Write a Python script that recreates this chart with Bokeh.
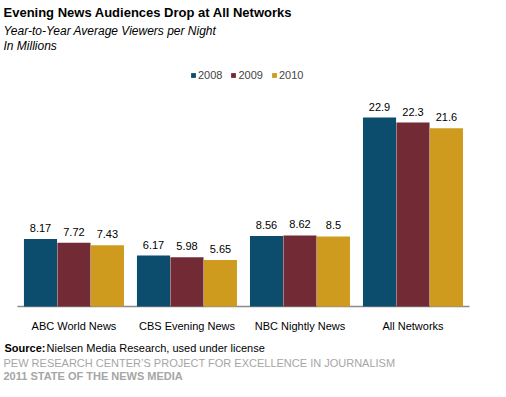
from bokeh.plotting import figure
from bokeh.models import Range1d, ColumnDataSource, Label, Legend, LegendItem
from bokeh.core.properties import value
from bokeh.embed import file_html
from bokeh.resources import INLINE

categories = ["ABC World News", "CBS Evening News", "NBC Nightly News", "All Networks"]
years = ["2008", "2009", "2010"]
v2008 = [8.17, 6.17, 8.56, 22.9]
v2009 = [7.72, 5.98, 8.62, 22.3]
v2010 = [7.43, 5.65, 8.5, 21.6]
colors = ["#0C4C6C", "#722B35", "#CF9B1E"]

FONT = "Liberation Sans"
W, H = 490, 381

# frame covers the whole canvas; category i is centred at i + 0.5
p = figure(width=W, height=H, x_range=Range1d(-0.150, 4.186), y_range=Range1d(-9.09, 37.09),
           output_backend="svg", toolbar_location=None, title=None,
           x_axis_location=None, y_axis_location=None,
           min_border_left=0, min_border_right=0, min_border_top=0, min_border_bottom=0)
p.outline_line_color = None
p.xgrid.visible = False
p.ygrid.visible = False
p.background_fill_color = "white"
p.border_fill_color = "white"

n = len(categories)
centers = [i + 0.5 for i in range(n)]

# category axis line and labels
p.segment(x0=[0], x1=[n], y0=[0], y1=[0], line_color="#8C8C8C", line_width=1.5)
p.text(x=centers, y=[0] * n, text=categories, y_offset=19, text_align="center",
       text_baseline="middle", text_font=value(FONT), text_font_size="11px",
       text_color="#000000")

offsets = [-0.296, 0.0, 0.296]
series = [v2008, v2009, v2010]
items = []
for yr, vals, off, col in zip(years, series, offsets, colors):
    xs = [c + off for c in centers]
    src = ColumnDataSource(dict(x=xs, val=vals, lab=[f"{v:g}" for v in vals]))
    r = p.vbar(x="x", top="val", bottom=0, width=0.293, source=src,
               fill_color=col, line_color=None)
    p.text(x="x", y="val", text="lab", source=src,
           text_align="center", text_baseline="bottom", y_offset=-7,
           text_font=value(FONT), text_font_size="11px", text_color="#000000")
    items.append(LegendItem(label=yr, renderers=[r]))

legend = Legend(items=items, orientation="horizontal", location=(190, 300),
                glyph_width=6, glyph_height=6, label_standoff=2, spacing=8,
                label_height=12, label_text_font=FONT, label_text_font_size="11px",
                padding=0, margin=0, border_line_color=None, background_fill_alpha=0)
p.add_layout(legend, "center")

def lab(txt, cy, x=0, size="11px", style="normal", color="#000000"):
    p.add_layout(Label(x=x, y=cy, x_units="canvas", y_units="canvas",
                       text=txt, text_font=FONT, text_font_size=size,
                       text_font_style=style, text_color=color,
                       text_baseline="middle", text_align="left"))

lab("Evening News Audiences Drop at All Networks", 11.5, x=3, size="13px", style="bold")
lab("Year-to-Year Average Viewers per Night", 30.5, x=3, size="12px", style="italic")
lab("In Millions", 45, x=3, size="12px", style="italic")
lab("Source:", 347.5, x=4, size="11px", style="bold")
lab("Nielsen Media Research, used under license", 347.5, x=46, size="11px")
lab("PEW RESEARCH CENTER\u2019S PROJECT FOR EXCELLENCE IN JOURNALISM", 362, x=3,
    size="11px", color="#A6A6A6")
lab("2011 STATE OF THE NEWS MEDIA", 375.5, x=3, size="11px", style="bold", color="#A6A6A6")

open("out.html", "w").write(file_html(p, INLINE))
